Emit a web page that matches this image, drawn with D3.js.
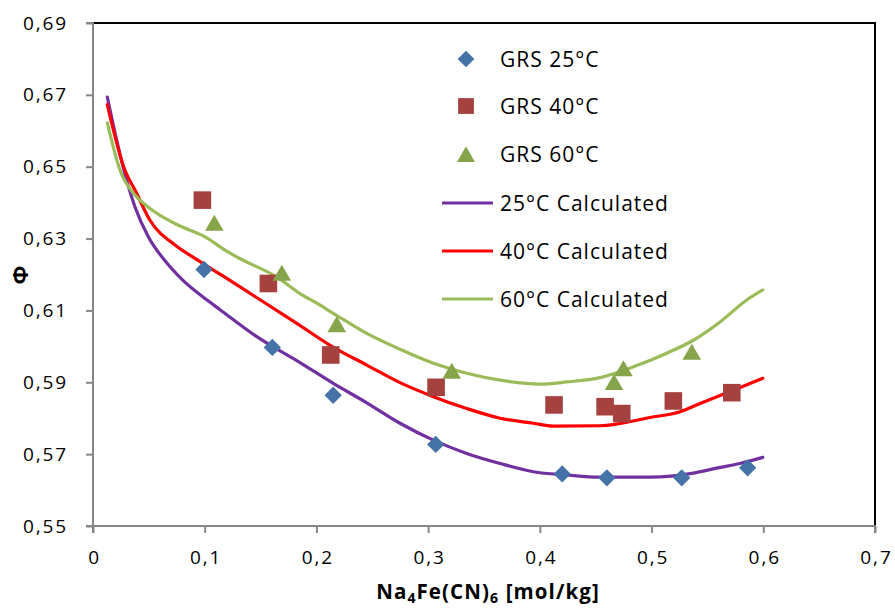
<!DOCTYPE html>
<html><head><meta charset="utf-8">
<script src="https://cdn.jsdelivr.net/npm/d3@7"></script>
<style>body{margin:0;background:#fff}svg{display:block}text{font-family:"Open Sans",sans-serif}</style>
</head><body><svg id="c" width="895" height="608"></svg>
<script>
// measured data
const xTicks = [0,0.1,0.2,0.3,0.4,0.5,0.6,0.7];
const yTicks = [0.55,0.57,0.59,0.61,0.63,0.65,0.67,0.69];
const seriesNames = ["GRS 25°C","GRS 40°C","GRS 60°C","25°C Calculated","40°C Calculated","60°C Calculated"];

const grs25X = [0.0994,0.1605,0.215,0.3068,0.420,0.460,0.527,0.586];
const grs25Y = [0.6214,0.5997,0.5864,0.5727,0.5645,0.5634,0.5634,0.5662];
const grs40X = [0.0979,0.157,0.2128,0.3071,0.4127,0.4584,0.4733,0.5195,0.5718];
const grs40Y = [0.6407,0.6175,0.5976,0.5886,0.5837,0.5832,0.5813,0.5848,0.5871];
const grs60X = [0.1086,0.169,0.2182,0.3211,0.4664,0.4748,0.536];
const grs60Y = [0.6344,0.6205,0.6062,0.5932,0.5901,0.5939,0.5985];

const calc25X = [0.0128,0.0212,0.0301,0.0376,0.0495,0.0645,0.0794,0.1033,0.1137,0.1466,0.1853,0.2151,0.245,0.2748,0.3047,0.3345,0.3644,0.3942,0.424,0.4539,0.4987,0.5374,0.5583,0.5792,0.5996];
const calc25Y = [0.6694,0.6574,0.6462,0.6388,0.6305,0.6238,0.6187,0.6126,0.6102,0.6027,0.5955,0.5897,0.5843,0.5786,0.5739,0.5702,0.5674,0.5651,0.5642,0.5636,0.5636,0.5647,0.5661,0.5674,0.5691];
const calc40X = [0.0128,0.0286,0.0376,0.051,0.0734,0.0913,0.1152,0.151,0.1824,0.2122,0.245,0.2748,0.3047,0.3345,0.3644,0.3942,0.4121,0.4539,0.4987,0.5255,0.5434,0.5732,0.5996];
const calc40Y = [0.6673,0.649,0.6435,0.6351,0.6282,0.6245,0.6198,0.6127,0.6064,0.6003,0.5948,0.5899,0.586,0.5827,0.58,0.5786,0.5778,0.5779,0.5802,0.5818,0.5841,0.5878,0.5911];
const calc60X = [0.0128,0.0242,0.0376,0.051,0.0764,0.1003,0.1182,0.1286,0.166,0.1853,0.2003,0.2151,0.245,0.2748,0.3047,0.3345,0.3644,0.4002,0.424,0.4539,0.4837,0.5136,0.5374,0.5613,0.5852,0.5996];
const calc60Y = [0.6622,0.649,0.6421,0.6384,0.6337,0.6305,0.6268,0.6249,0.619,0.6147,0.612,0.6092,0.6036,0.5992,0.5953,0.5925,0.5906,0.5895,0.5901,0.5913,0.5943,0.5981,0.6017,0.6068,0.6129,0.6157];

const zip = (xs, ys) => xs.map((x, i) => [x, ys[i]]);

const svg = d3.select("#c");
const L = 93, R = 875, T = 23, B = 526;
const x = d3.scaleLinear().domain([0, 0.7]).range([L, R]);
const y = d3.scaleLinear().domain([0.55, 0.69]).range([B, T]);
const fmtX = d => d === 0 ? "0" : d3.format(".1f")(d).replace(".", ",");
const fmtY = d => d3.format(".2f")(d).replace(".", ",");

// frame top/right
svg.append("path").attr("d", `M${L},${T}H${R}V${B}`).attr("fill", "none").attr("stroke", "#000").attr("stroke-width", 2);

// axes
const gx = svg.append("g").attr("transform", `translate(0,${B})`)
  .call(d3.axisBottom(x).tickValues(xTicks).tickFormat(fmtX).tickSize(7).tickPadding(18));
const gy = svg.append("g").attr("transform", `translate(${L},0)`)
  .call(d3.axisLeft(y).tickValues(yTicks).tickFormat(fmtY).tickSize(7).tickPadding(18));
[gx, gy].forEach(g => {
  g.select(".domain").attr("stroke", "#868686").attr("stroke-width", 2);
  g.selectAll(".tick line").attr("stroke", "#868686").attr("stroke-width", 2);
  g.selectAll(".tick text").attr("fill", "#000").style("font-size", "19px")
    .style("letter-spacing", "1.9px").style("font-family", '"Open Sans",sans-serif');
});
gx.selectAll(".tick text").attr("dx", "1px");
gy.select(".domain").attr("d", `M-7,${B}H0V${T}H-7`);
gx.select(".domain").attr("d", `M${L},7V0H${R}V7`);

// lines
const line = d3.line().x(d => x(d[0])).y(d => y(d[1])).curve(d3.curveMonotoneX);
const calcs = [[calc25X, calc25Y, "#7030A0"], [calc40X, calc40Y, "#FF0000"], [calc60X, calc60Y, "#9BBB59"]];
calcs.forEach(([xs, ys, c]) => {
  svg.append("path").datum(zip(xs, ys)).attr("d", line).attr("fill", "none")
    .attr("stroke", c).attr("stroke-width", 3.2).attr("stroke-linejoin", "round").attr("stroke-linecap", "round");
});

// markers
function drawPts(xs, ys, gen, color, extra) {
  svg.append("g").selectAll("path").data(zip(xs, ys)).join("path")
    .attr("d", gen).attr("fill", color)
    .attr("transform", d => `translate(${x(d[0])},${y(d[1])})` + extra);
}
drawPts(grs25X, grs25Y, d3.symbol().type(d3.symbolSquare).size(150), "#4572A7", " rotate(45)");
drawPts(grs40X, grs40Y, d3.symbol().type(d3.symbolSquare).size(310), "#A5423F", "");
drawPts(grs60X, grs60Y, d3.symbol().type(d3.symbolTriangle).size(150), "#86A44A", " translate(0,2.7)");

// legend
const lg = svg.append("g");
const rows = [59, 106, 154, 203, 251, 299];
const tx = 500;
lg.append("path").attr("d", d3.symbol().type(d3.symbolSquare).size(140)).attr("fill", "#4572A7").attr("transform", `translate(466,${rows[0]}) rotate(45)`);
lg.append("path").attr("d", d3.symbol().type(d3.symbolSquare).size(250)).attr("fill", "#A5423F").attr("transform", `translate(466,${rows[1]})`);
lg.append("path").attr("d", d3.symbol().type(d3.symbolTriangle).size(140)).attr("fill", "#86A44A").attr("transform", `translate(466,${rows[2] + 2.7})`);
["#7030A0", "#FF0000", "#9BBB59"].forEach((c, i) => {
  lg.append("line").attr("x1", 442).attr("x2", 493).attr("y1", rows[3 + i]).attr("y2", rows[3 + i])
    .attr("stroke", c).attr("stroke-width", 3.2);
});
seriesNames.forEach((n, i) => {
  lg.append("text").attr("x", tx).attr("y", rows[i]).attr("dy", "0.36em")
    .style("font-size", "21px").style("letter-spacing", "1px").text(n);
});

// axis titles
const xt = svg.append("text").attr("x", 488).attr("y", 599).attr("text-anchor", "middle")
  .style("font-size", "20.5px").style("font-weight", "bold").style("letter-spacing", "1.1px");
xt.append("tspan").text("Na");
xt.append("tspan").text("4").attr("dy", 4).style("font-size", "14px");
xt.append("tspan").text("Fe(CN)").attr("dy", -4);
xt.append("tspan").text("6").attr("dy", 4).style("font-size", "14px");
xt.append("tspan").text(" [mol/kg]").attr("dy", -4);
svg.append("text").attr("transform", "translate(20,275) rotate(-90)").attr("text-anchor", "middle").attr("dy", "0.36em")
  .style("font-size", "22px").style("font-weight", "bold").text("Φ");
</script></body></html>
